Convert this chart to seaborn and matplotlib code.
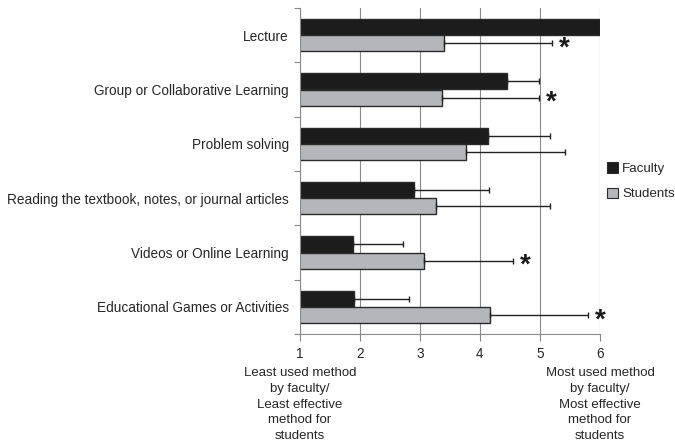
import matplotlib
matplotlib.use("Agg")
import matplotlib.pyplot as plt
import seaborn as sns
import pandas as pd
import numpy as np
from matplotlib.patches import Patch

categories = [
    "Lecture",
    "Group or Collaborative Learning",
    "Problem solving",
    "Reading the textbook, notes, or journal articles",
    "Videos or Online Learning",
    "Educational Games or Activities",
]
faculty_mean = [6.0, 4.45, 4.13, 2.90, 1.89, 1.90]
faculty_sd = [0.0, 0.53, 1.04, 1.25, 0.83, 0.92]
student_mean = [3.40, 3.37, 3.77, 3.27, 3.07, 4.17]
student_sd = [1.80, 1.61, 1.65, 1.90, 1.48, 1.63]
student_sig = [True, True, False, False, True, True]
groups = ["Faculty", "Students"]
xticks = [1, 2, 3, 4, 5, 6]

df = pd.DataFrame({
    "method": categories * 2,
    "group": [groups[0]] * len(categories) + [groups[1]] * len(categories),
    "score": faculty_mean + student_mean,
})

sns.set_style("white")
plt.rcParams["font.family"] = ["Liberation Sans", "DejaVu Sans"]

fig = plt.figure(figsize=(6.75, 4.47), dpi=100)
ax = fig.add_axes([300 / 675, 1 - 334 / 447, 300 / 675, 326 / 447])

palette = {"Faculty": "#1c1c1c", "Students": "#b5b6b9"}
sns.barplot(data=df, x="score", y="method", hue="group", order=categories,
            hue_order=groups, palette=palette, width=0.6, orient="h",
            edgecolor="#2a2a2a", linewidth=1.0, ax=ax, legend=False,
            errorbar=None, saturation=1)

ax.set_xlim(1, 6)
ax.set_ylim(len(categories) - 0.5, -0.5)

# one-sided error bars at the bar centres (skipped where the spread is zero)
for container, means, sds in zip(ax.containers, [faculty_mean, student_mean],
                                 [faculty_sd, student_sd]):
    ys = [p.get_y() + p.get_height() / 2 for p in container.patches]
    keep = [i for i, s in enumerate(sds) if s > 0]
    xs = [means[i] for i in keep]
    yk = [ys[i] for i in keep]
    xerr = np.array([np.zeros(len(keep)), [sds[i] for i in keep]])
    ax.errorbar(xs, yk, xerr=xerr, fmt="none", ecolor="#222222",
                elinewidth=1.0, capsize=2.5, capthick=1.0, zorder=4)

# significance markers
stud_patches = ax.containers[1].patches
for p, m, s, sig in zip(stud_patches, student_mean, student_sd, student_sig):
    if sig:
        ax.text(m + s + 0.12, p.get_y() + p.get_height() / 2 + 0.1, "*",
                fontsize=20, fontweight="bold", ha="left", va="center",
                color="#1a1a1a", clip_on=False)

ax.set_xlabel("")
ax.set_ylabel("")
ax.set_xticks(xticks)
ax.set_xticklabels([str(t) for t in xticks], fontsize=9.8)
ax.set_yticks(range(len(categories)))
ax.set_yticklabels(categories, fontsize=9.8)
ax.set_yticks(np.arange(-0.5, len(categories), 1.0), minor=True)
ax.tick_params(axis="y", which="major", length=0, pad=8)
ax.tick_params(axis="y", which="minor", length=4, color="#888888", width=0.8, left=True)
ax.tick_params(axis="x", which="major", length=5, color="#888888", width=0.8,
               bottom=True, direction="out", pad=4)

ax.grid(axis="x", color="#8a8a8a", linewidth=0.8)
ax.set_axisbelow(True)
for side in ["top", "right"]:
    ax.spines[side].set_visible(False)
for side in ["left", "bottom"]:
    ax.spines[side].set_color("#8a8a8a")
    ax.spines[side].set_linewidth(0.8)

handles = [Patch(facecolor=palette[g], edgecolor="#2a2a2a", linewidth=0.8) for g in groups]
fig.legend(handles, groups, loc="upper left", bbox_to_anchor=(602 / 675, 1 - 157 / 447),
           frameon=False, fontsize=9.6, handlelength=0.8, handleheight=0.8,
           handletextpad=0.3, labelspacing=0.95, borderaxespad=0)

low_txt = "Least used method\nby faculty/\nLeast effective\nmethod for\nstudents"
high_txt = "Most used method\nby faculty/\nMost effective\nmethod for\nstudents"
ax.text(1, -0.1, low_txt, transform=ax.get_xaxis_transform(), ha="center", va="top",
        fontsize=9.5, linespacing=1.44)
ax.text(6, -0.1, high_txt, transform=ax.get_xaxis_transform(), ha="center", va="top",
        fontsize=9.5, linespacing=1.44)

fig.savefig("out.png", dpi=100)
